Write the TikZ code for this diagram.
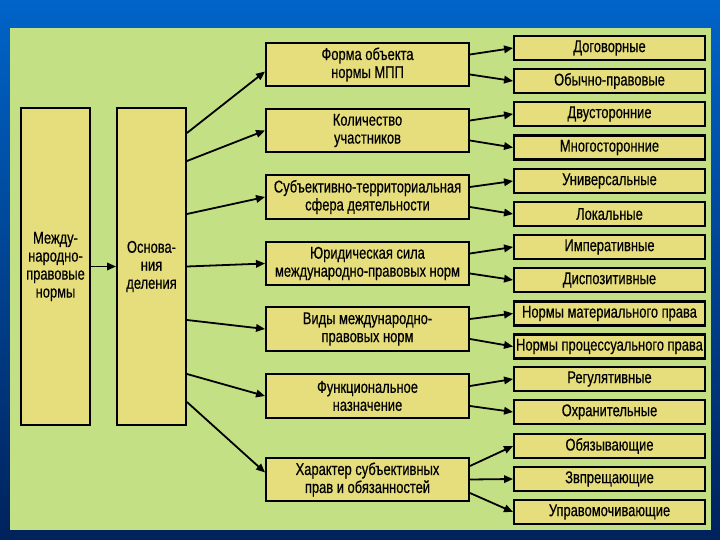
\documentclass[tikz,border=0pt]{standalone}
\usepackage{fontspec}
\setmainfont{Liberation Sans}[FakeStretch=0.76,FakeBold=0.5]
\usetikzlibrary{arrows.meta}
\definecolor{slidetop}{RGB}{0,100,200}
\definecolor{slidebottom}{RGB}{0,34,92}
\definecolor{panelgreen}{RGB}{196,224,132}
\definecolor{boxyellow}{RGB}{230,222,124}

\begin{document}
\begin{tikzpicture}[x=1pt,y=-1pt,
  box/.style={draw=black, line width=2.4pt, fill=boxyellow, inner sep=1pt, align=center, font=\fontsize{17}{18}\selectfont},
  tall/.style={box, minimum width=68.5pt, minimum height=316.5pt},
  kind/.style={box, minimum width=202.5pt, minimum height=43.5pt},
  leaf/.style={box, minimum width=190.5pt, minimum height=24pt},
  arr/.style={-{Triangle[length=9pt,width=7.5pt]}, line width=1.8pt}]
\useasboundingbox (0,0) rectangle (720,540);
% slide background and panel
\shade[top color=slidetop, bottom color=slidebottom] (0,0) rectangle (720,540);
\fill[panelgreen] (10,28) rectangle (711,530);

% two tall boxes
\node[tall] (intl) at (55.5,266.5) {Между-\\народно-\\правовые\\нормы};
\node[tall] (basis) at (151.5,266.5) {Основа-\\ния\\деления};

% grounds of division
\node[kind] (form) at (367.5,64.5) {Форма объекта\\нормы МПП};
\node[kind] (count) at (367.5,130.5) {Количество\\участников};
\node[kind] (sphere) at (367.5,197) {Субъективно-территориальная\\сфера деятельности};
\node[kind] (force) at (367.5,263.5) {Юридическая сила\\международно-правовых норм};
\node[kind] (types) at (367.5,329) {Виды международно-\\правовых норм};
\node[kind] (func) at (367.5,396) {Функциональное\\назначение};
\node[kind] (rights) at (367.5,479.5) {Характер субъективных\\прав и обязанностей};

% kinds of norms
\node[leaf] (treaty) at (609.5,48) {Договорные};
\node[leaf] (custom) at (609.5,81) {Обычно-правовые};
\node[leaf] (bilat) at (609.5,114) {Двусторонние};
\node[leaf] (multilat) at (609.5,147.5) {Многосторонние};
\node[leaf] (univ) at (609.5,181) {Универсальные};
\node[leaf] (local) at (609.5,214) {Локальные};
\node[leaf] (imper) at (609.5,247) {Императивные};
\node[leaf] (dispos) at (609.5,280) {Диспозитивные};
\node[leaf] (material) at (609.5,313.5) {Нормы материального права};
\node[leaf] (procedural) at (609.5,346.5) {Нормы процессуального права};
\node[leaf] (regul) at (609.5,379) {Регулятивные};
\node[leaf] (protect) at (609.5,412) {Охранительные};
\node[leaf] (oblig) at (609.5,446) {Обязывающие};
\node[leaf] (prohib) at (609.5,479) {Звпрещающие};
\node[leaf] (empower) at (609.5,512) {Управомочивающие};

% connectors
\draw[arr] (intl.east) -- (basis.west);
\draw[arr] ([yshift=133.5pt]basis.east) -- ([yshift=-7pt]form.west);
\draw[arr] ([yshift=105.5pt]basis.east) -- (count.west);
\draw[arr] ([yshift=52.5pt]basis.east) -- (sphere.west);
\draw[arr] (basis.east) -- (force.west);
\draw[arr] ([yshift=-53.5pt]basis.east) -- (types.west);
\draw[arr] ([yshift=-107.5pt]basis.east) -- (func.west);
\draw[arr] ([yshift=-135.5pt]basis.east) -- ([yshift=7pt]rights.west);

\draw[arr] ([yshift=10pt]form.east) -- (treaty.west);
\draw[arr] ([yshift=-10pt]form.east) -- (custom.west);
\draw[arr] ([yshift=10pt]count.east) -- (bilat.west);
\draw[arr] ([yshift=-10pt]count.east) -- (multilat.west);
\draw[arr] ([yshift=10pt]sphere.east) -- (univ.west);
\draw[arr] ([yshift=-10pt]sphere.east) -- (local.west);
\draw[arr] ([yshift=10pt]force.east) -- (imper.west);
\draw[arr] ([yshift=-10pt]force.east) -- (dispos.west);
\draw[arr] ([yshift=10pt]types.east) -- (material.west);
\draw[arr] ([yshift=-10pt]types.east) -- (procedural.west);
\draw[arr] ([yshift=10pt]func.east) -- (regul.west);
\draw[arr] ([yshift=-10pt]func.east) -- (protect.west);
\draw[arr] ([yshift=13.5pt]rights.east) -- (oblig.west);
\draw[arr] (rights.east) -- (prohib.west);
\draw[arr] ([yshift=-13.5pt]rights.east) -- (empower.west);
\end{tikzpicture}
\end{document}
